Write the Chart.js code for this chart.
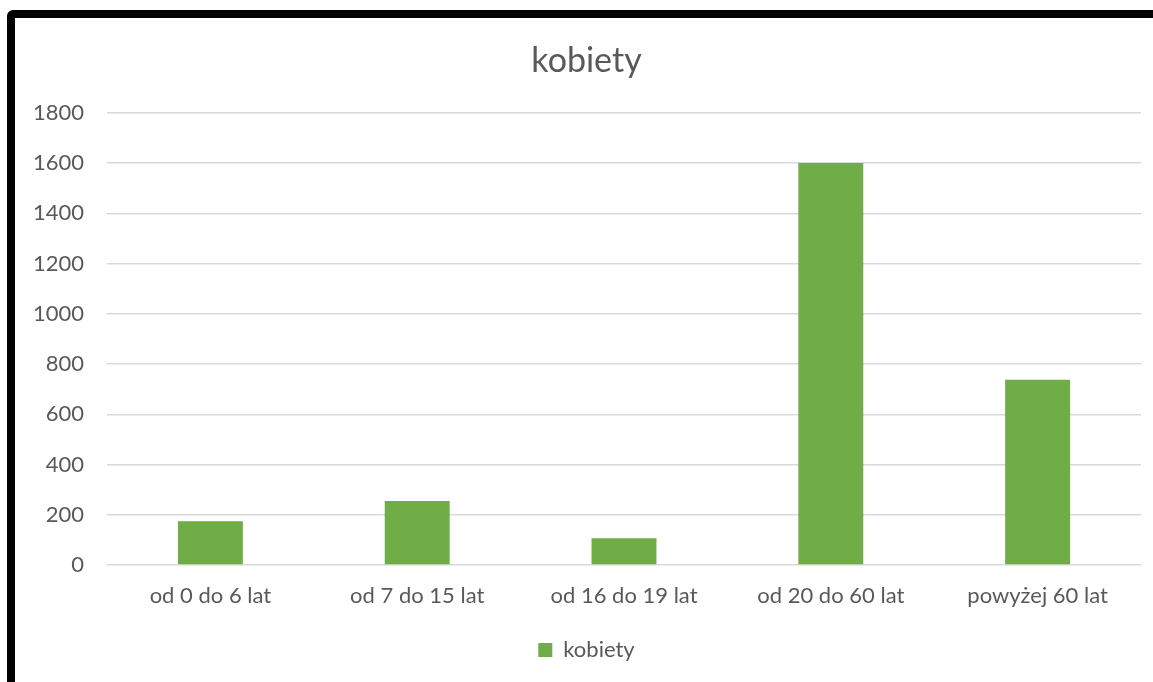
<!DOCTYPE html>
<html>
<head>
<meta charset="utf-8">
<script src="https://cdn.jsdelivr.net/npm/chart.js@4"></script>
<style>
  html, body { margin: 0; padding: 0; background: #fff; overflow: hidden; }
  #wrap { position: relative; width: 1153px; height: 682px; }
  #frame { position: absolute; left: 7px; top: 10px; width: 1180px; height: 700px;
           border: 8px solid #000; border-radius: 6px; box-sizing: border-box; }
  #myChart { position: absolute; left: 0; top: 0; }
</style>
</head>
<body>
<div id="wrap">
  <div id="frame"></div>
  <canvas id="myChart" width="1153" height="682"></canvas>
</div>
<script>
var categories = ["od 0 do 6 lat", "od 7 do 15 lat", "od 16 do 19 lat", "od 20 do 60 lat", "powyżej 60 lat"];
var kobiety = [174, 255, 106, 1600, 737];
var yTicks = [0, 200, 400, 600, 800, 1000, 1200, 1400, 1600, 1800];

var textColor = '#595959';
var fontName = 'Lato';

var ctx = document.getElementById('myChart').getContext('2d');
var chart = new Chart(ctx, {
  type: 'bar',
  data: {
    labels: categories,
    datasets: [{
      label: 'kobiety',
      data: kobiety,
      backgroundColor: '#70AD47',
      borderWidth: 0,
      categoryPercentage: 1,
      barPercentage: 0.314
    }]
  },
  options: {
    responsive: false,
    animation: false,
    // left padding nudges title/legend centre right, plot still starts at x=107
    layout: { padding: { left: 32, right: 12, top: 0, bottom: 11 } },
    plugins: {
      title: {
        display: true,
        text: 'kobiety',
        color: textColor,
        font: { family: fontName, size: 34, weight: 'normal' },
        padding: { top: 41, bottom: 31 }
      },
      legend: {
        position: 'bottom',
        labels: {
          color: textColor,
          font: { family: fontName, size: 22 },
          boxWidth: 14,
          boxHeight: 14,
          padding: 14
        }
      },
      tooltip: { enabled: false }
    },
    scales: {
      x: {
        grid: { display: false, drawTicks: false },
        border: { display: false },
        ticks: { color: textColor, font: { family: fontName, size: 22 }, padding: 18, maxRotation: 0 },
        afterFit: function (s) { s.height = 60; }
      },
      y: {
        min: 0,
        max: 1800,
        afterBuildTicks: function (s) { s.ticks = yTicks.map(function (v) { return { value: v }; }); },
        grid: { color: '#D9D9D9', lineWidth: 1.5, drawTicks: false },
        border: { display: false },
        ticks: {
          color: textColor,
          font: { family: fontName, size: 22 },
          padding: 23,
          callback: function (v) { return String(v); }
        },
        afterFit: function (s) { s.width = 75; }
      }
    }
  }
});
</script>
</body>
</html>
